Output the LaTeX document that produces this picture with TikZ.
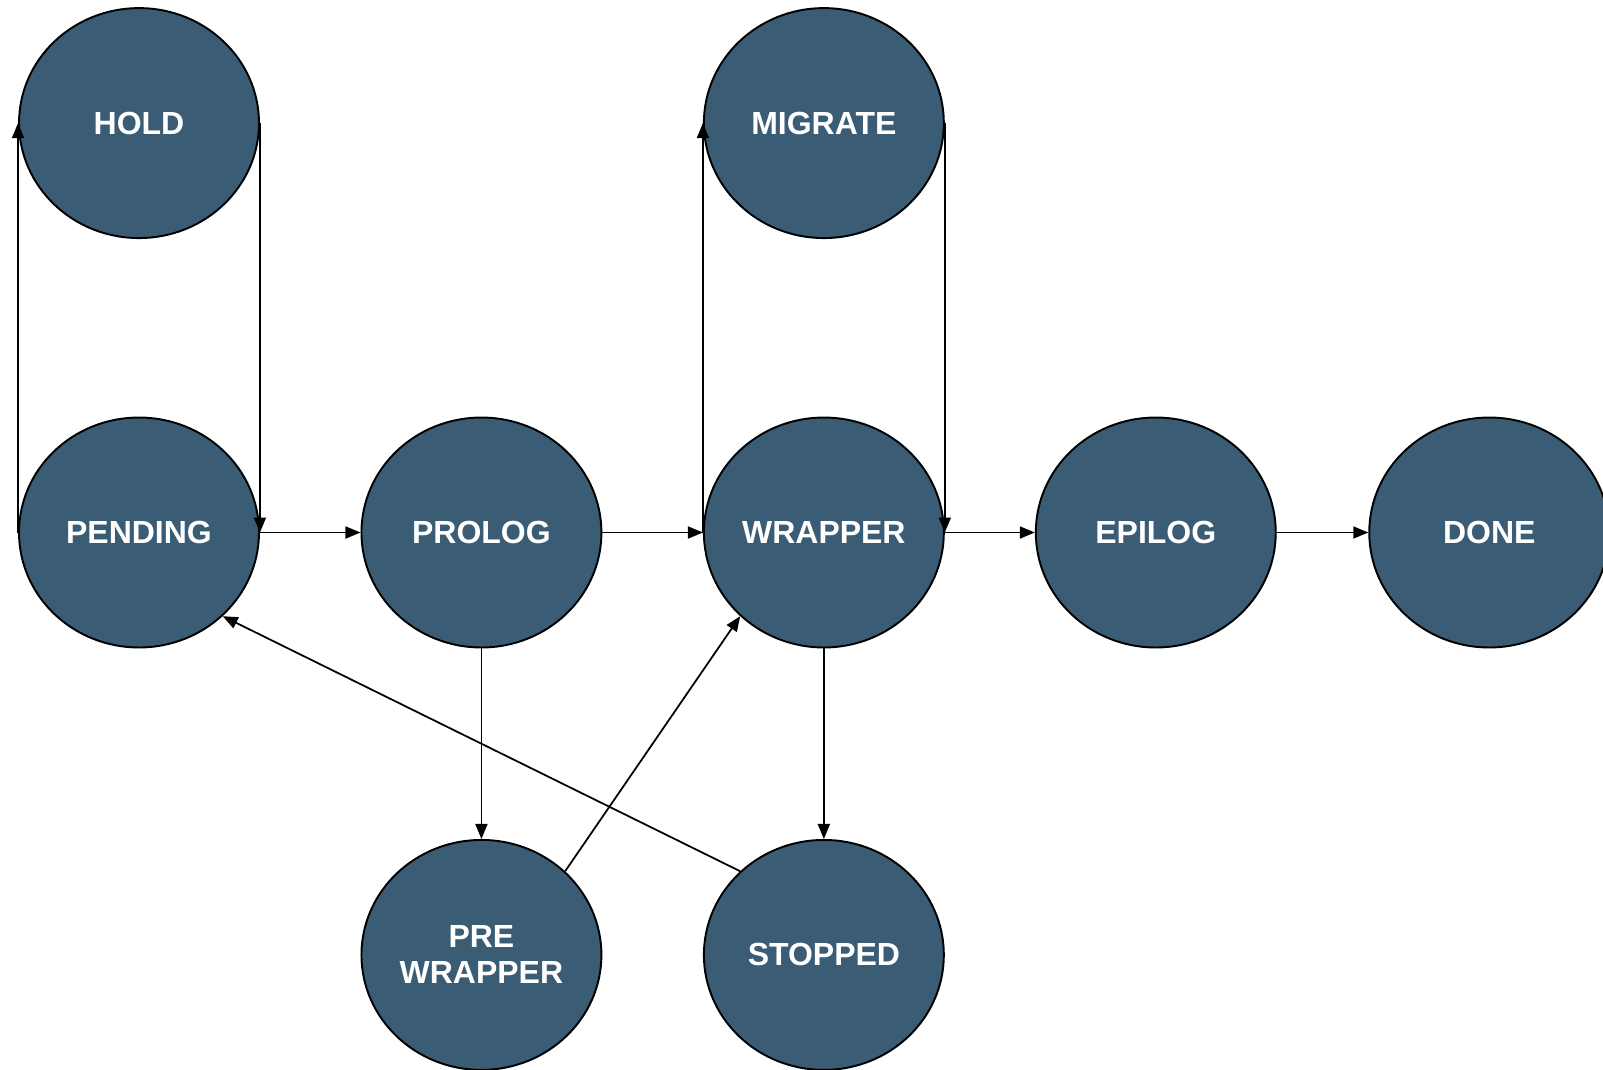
\documentclass[tikz,border=0pt]{standalone}
\usepackage{fontspec}
\setmainfont{Liberation Sans}
\usepackage{tikz}
\usetikzlibrary{shapes.geometric,arrows.meta}
\definecolor{statefill}{HTML}{3A5C75}

\begin{document}
\begin{tikzpicture}[x=0.02cm, y=0.02cm,
  state/.style={draw, shape=ellipse, fill=statefill, line width=1.1pt,
    minimum width=4.8cm, minimum height=4.6cm, inner sep=0pt,
    text=white, align=center, font=\bfseries\fontsize{18.2}{20.5}\selectfont},
  flow/.style={-{Triangle[length=0.3cm, width=0.24cm]}, line width=1pt}]

\useasboundingbox (0,0) rectangle (1603,-1069);

\node[state] (pending) at (139,-532.5) {PENDING};
\node[state, node distance=8.19cm] (hold) [above of=pending] {HOLD};
\node[state, node distance=6.85cm] (prolog) [right of=pending] {PROLOG};
\node[state, node distance=6.85cm] (wrapper) [right of=prolog] {WRAPPER};
\node[state, node distance=8.19cm] (migrate) [above of=wrapper] {MIGRATE};
\node[state, node distance=6.64cm] (epilog) [right of=wrapper] {EPILOG};
\node[state, node distance=6.67cm] (done) [right of=epilog] {DONE};

\node[state, node distance=8.45cm] (prewrap) [below of=prolog] {PRE\\WRAPPER};
\node[state, node distance=8.45cm] (stopped) [below of=wrapper] {STOPPED};

\draw[flow] (pending.west) to (hold.west);
\draw[flow] (hold.east) to (pending.east);
\draw[flow] (pending.east) to (prolog.west);
\draw[flow] (prolog.east) to (wrapper.west);
\draw[flow] (wrapper.west) to (migrate.west);
\draw[flow] (migrate.east) to (wrapper.east);
\draw[flow] (wrapper.east) to (epilog.west);
\draw[flow] (epilog.east) to (done.west);

%downward and back connections
\draw[flow] (prolog.south) to (prewrap.north);
\draw[flow] (wrapper.south) to (stopped.north);
\draw[flow] (prewrap.45) to (wrapper.225);
\draw[flow] (stopped.135) to (pending.-45);

\end{tikzpicture}
\end{document}
